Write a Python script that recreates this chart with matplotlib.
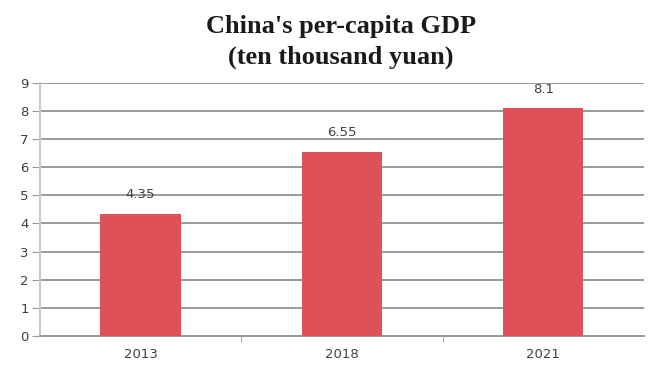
import matplotlib
matplotlib.use("Agg")
import matplotlib.pyplot as plt
from matplotlib.ticker import FixedLocator

years = ["2013", "2018", "2021"]
gdp = [4.35, 6.55, 8.1]
value_labels = ["4.35", "6.55", "8.1"]

fig = plt.figure(figsize=(6.5, 3.7), dpi=100)
ax = fig.add_axes([0.0615, 0.092, 0.929, 0.684])

x = list(range(len(years)))
bars = ax.bar(x, gdp, width=0.4, color="#de5158", zorder=3)

ax.set_xlim(-0.5, len(years) - 0.5)
ax.set_ylim(0, 9)
ax.set_yticks(range(0, 10))
ax.yaxis.grid(True, color="#9a9a9a", linewidth=1.4, zorder=0)
ax.set_axisbelow(True)

ax.set_xticks(x)
ax.set_xticklabels(years)
ax.xaxis.set_minor_locator(FixedLocator([0.5, 1.5]))
ax.tick_params(axis="x", which="major", length=0, pad=9)
ax.tick_params(axis="x", which="minor", length=4, color="#9a9a9a", direction="out")
ax.tick_params(axis="y", length=6, color="#9a9a9a", pad=2)
ax.tick_params(labelsize=9.5, labelcolor="#404040")

for side in ("top", "right"):
    ax.spines[side].set_visible(False)
ax.spines["left"].set_color("#c8c8c8")
ax.spines["left"].set_linewidth(1.4)
ax.spines["bottom"].set_color("#9a9a9a")
ax.spines["bottom"].set_linewidth(1.4)

for rect, label in zip(bars, value_labels):
    ax.annotate(label, (rect.get_x() + rect.get_width() / 2, rect.get_height()),
                xytext=(0, 9), textcoords="offset points", ha="center", va="bottom",
                fontsize=9.5, color="#404040")

fig.text(0.525, 0.96, "China's per-capita GDP\n(ten thousand yuan)",
         ha="center", va="top", fontsize=19, fontweight="bold",
         family="Liberation Serif", linespacing=1.42, color="#1a1a1a")

fig.savefig("out.png", dpi=100, facecolor="white")
